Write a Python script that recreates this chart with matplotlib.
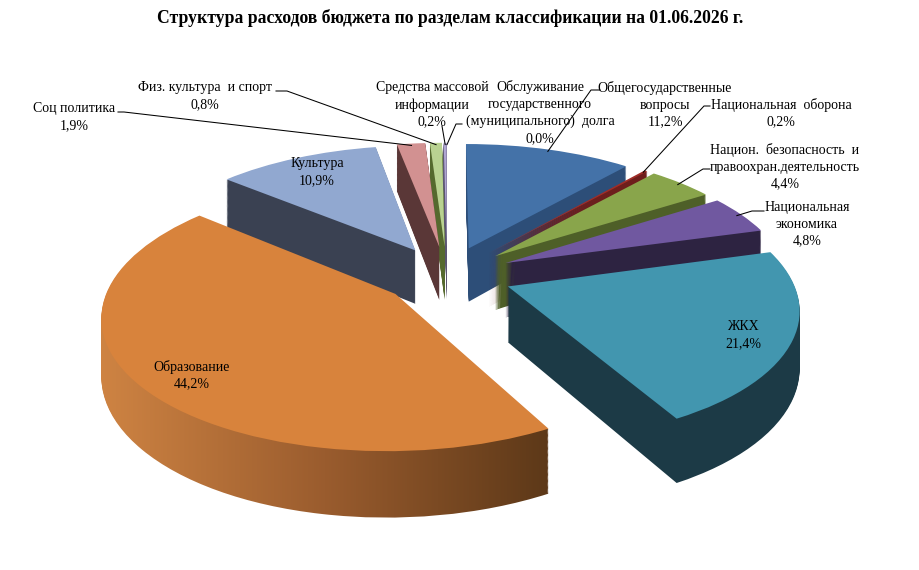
import numpy as np
import matplotlib
matplotlib.use("Agg")
import matplotlib.pyplot as plt
from matplotlib.transforms import Transform, Affine2D
from matplotlib.colors import LinearSegmentedColormap

# ---------------- data ----------------
title = "Структура расходов бюджета по разделам классификации на 01.06.2026 г."
categories = [
    "Общегосударственные\nвопросы",
    "Национальная  оборона",
    "Национ.  безопасность  и\nправоохран.деятельность",
    "Национальная\nэкономика",
    "ЖКХ",
    "Образование",
    "Культура",
    "Соц политика",
    "Физ. культура  и спорт",
    "Средства массовой\nинформации",
    "Обслуживание\nгосударственного\n(муниципального)  долга",
]
values = [11.2, 0.2, 4.4, 4.8, 21.4, 44.2, 10.9, 1.9, 0.8, 0.2, 0.0]
percent_labels = [f"{v:.1f}%".replace(".", ",") for v in values]

top_colors = ["#4472a8", "#a02d28", "#89a54b", "#7058a0", "#4296af", "#d8833c",
              "#91a8d0", "#d29191", "#b9d291", "#afa5d2", "#9bbb59"]
side_colors = ["#2d4e78", "#6e1e1c", "#4e5f28", "#2d2341", "#1c3a46", "#96592c",
               "#3a4152", "#5a3737", "#55692e", "#5a5570", "#4e5f28"]
edu_side_grad = ["#cf8443", "#9a5c2e", "#5c3818"]

# ---------------- layout ----------------
W, Hh = 920, 570
CX, CY = 447.0, 275.0      # pie centre (pixels, y down)
R = 283.0                  # radius in pixels
S = 0.45                   # vertical squash (tilt)
K = 0.15                   # perspective strength
DEPTH = 55.0               # thickness in pixels
EXPL = 0.23                # explode (fraction of radius)
FONT = "Liberation Serif"

fig = plt.figure(figsize=(W / 100, Hh / 100), dpi=100)
ax = fig.add_axes([0, 0, 1, 1])
ax.axis("off")
pix = Affine2D().scale(1 / 100.0) + fig.dpi_scale_trans


class Persp(Transform):
    input_dims = 2
    output_dims = 2

    def __init__(self, z=0.0):
        super().__init__()
        self.z = z

    def transform_non_affine(self, values):
        v = np.asarray(values, dtype=float).reshape(-1, 2)
        X, Y = v[:, 0], v[:, 1]
        f = 1.0 / (1.0 + K * Y)
        px = CX + X * R * f
        py = (Hh - CY) + (Y * S * R + self.z) * f
        return np.column_stack([px, py])


def P(x, yd):
    return x, Hh - yd


n = len(values)
persp0 = Persp(0.0)
zs = np.linspace(-DEPTH, 0.0, int(DEPTH) + 1)
grad = np.linspace(0, 1, 256)[None, :]
edu_cmap = LinearSegmentedColormap.from_list("edu", edu_side_grad)
edu_idx = categories.index("Образование")

top_wedges = None
for i, z in enumerate(zs):
    is_top = i == len(zs) - 1
    cols = top_colors if is_top else side_colors
    wedges, _ = ax.pie(values, explode=[EXPL] * n, startangle=90, counterclock=False,
                       radius=1.0, colors=cols, wedgeprops=dict(linewidth=0))
    T = Persp(z) + pix
    zo = 1 + i / len(zs) if not is_top else 3
    for j, w in enumerate(wedges):
        w.set_transform(T)
        w.set_zorder(zo)
        w.set_clip_on(False)
        if (not is_top) and j == edu_idx:
            w.set_visible(False)
            im = ax.imshow(grad, cmap=edu_cmap, extent=(98, 552, 0, Hh),
                           transform=pix, aspect="auto", zorder=zo + 1e-4,
                           interpolation="bilinear")
            im.set_clip_path(w)
    if is_top:
        top_wedges = wedges

ax.set_aspect("auto")
ax.set_position([0, 0, 1, 1])
ax.set_xlim(0, 1)
ax.set_ylim(0, 1)

# ---------------- labels ----------------
label_pos = [(665, 105), (781, 113), (785, 167), (807, 224), (743, 335), (192, 375),
             (317, 172), (74, 117), (205, 96), (432, 105), (540, 113)]
LINE = 17.0
# leader lines: start points near the label (None = label inside slice)
leader = [[(600, 90), (591, 90)], [(710, 106), (704, 106)], [(710, 169), (703, 169)],
          [(764, 211), (752, 211)], None, None, None,
          [(118, 112), (124, 112)], [(276, 91), (287, 91)], [(442, 126)],
          [(462, 124), (456, 124)]]

for j in range(n):
    lines = (categories[j] + "\n" + percent_labels[j]).split("\n")
    cxl, cyl = label_pos[j]
    L = len(lines)
    for k, line in enumerate(lines):
        x, y = P(cxl, cyl + (k - (L - 1) / 2.0) * LINE)
        ax.text(x, y, line, transform=pix, ha="center", va="center",
                fontsize=10, family=FONT, color="black", zorder=6, clip_on=False)
    if leader[j] is not None:
        w = top_wedges[j]
        tm = np.deg2rad(0.5 * (w.theta1 + w.theta2))
        cx, cy = w.center
        end = persp0.transform([[cx + 0.98 * w.r * np.cos(tm), cy + 0.98 * w.r * np.sin(tm)]])[0]
        xs = [p[0] for p in leader[j]] + [end[0]]
        ys = [Hh - p[1] for p in leader[j]] + [end[1]]
        ax.plot(xs, ys, transform=pix, color="black", lw=0.75, zorder=5, clip_on=False)

tx, ty = P(450, 18)
ax.text(tx, ty, title, transform=pix, ha="center", va="center", fontsize=12.7,
        fontweight="bold", family=FONT, color="black", zorder=6, clip_on=False)

fig.savefig("out.png", dpi=100)
